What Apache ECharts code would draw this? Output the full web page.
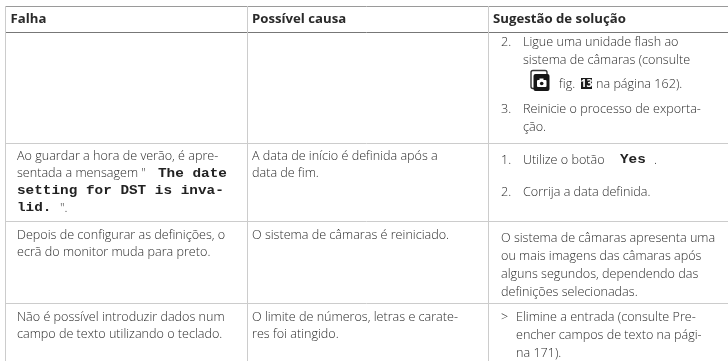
<!DOCTYPE html>
<html><head><meta charset="utf-8">
<style>html,body{margin:0;padding:0;background:#fff}#c{width:728px;height:361px}</style>
<script src="https://cdn.jsdelivr.net/npm/echarts@6/dist/echarts.min.js"></script></head>
<body><div id="c"></div>
<script>
const headers = ['Falha', 'Possível causa', 'Sugestão de solução'];
const col1Lines = [
 ['Ao guardar a hora de verão, é apre-', 156, 17],
 ['sentada a mensagem "', 173.5, 17],
 ['".', 208, 60],
 ['Depois de configurar as definições, o', 235, 17],
 ['ecrã do monitor muda para preto.', 252.5, 17],
 ['Não é possível introduzir dados num', 317, 17],
 ['campo de texto utilizando o teclado.', 334.5, 17]
];
const monoRuns = [
 ['The date', 173.5, 158],
 ['setting for DST is inva-', 190.5, 17],
 ['lid.', 208, 17],
 ['Yes', 160, 620]
];
const col2Lines = [
 ['A data de início é definida após a', 156],
 ['data de fim.', 173.5],
 ['O sistema de câmaras é reiniciado.', 235],
 ['O limite de números, letras e carate-', 317],
 ['res foi atingido.', 334.5]
];
const col3Lines = [
 ['Ligue uma unidade flash ao', 42],
 ['sistema de câmaras (consulte', 60],
 ['{g|fig.}', 84, 559],
 ['na página 162).', 84, 596],
 ['Reinicie o processo de exporta-', 109],
 ['ção.', 127],
 ['Utilize o botão', 160],
 ['.', 160, 654],
 ['Corrija a data definida.', 192]
];
const col3Plain = [
 ['O sistema de câmaras apresenta uma', 238],
 ['ou mais imagens das câmaras após', 256],
 ['alguns segundos, dependendo das', 274],
 ['definições selecionadas.', 292]
];
const numerals = [['2.', 42], ['3.', 109], ['1.', 160], ['2.', 192]];
const lastCell = [
 ['Elimine a entrada (consulte {g|Pre-}', 317],
 ['{g|encher campos de texto} na pági-', 335],
 ['na 171).', 353]
];
const hLines = [[6, '#9a9a9a', 1], [32, '#777', 1], [143, '#ccc', 1], [221, '#ccc', 1], [303, '#ccc', 1]];
const vLines = [5.5, 247.5, 488.5];

const FONT = '"Open Sans"';
const BODY = 12.6;
const rich = {
  g: {fontFamily: FONT, fontWeight: 300, fontSize: BODY, color: '#8a8a8a'}
};
function txt(s, x, y, extra) {
  return {type: 'text', x, y, silent: true, style: Object.assign({
    text: s, fontFamily: FONT, fontWeight: 300, fontSize: BODY, fill: '#2b2b2b',
    verticalAlign: 'middle', align: 'left', rich}, extra || {})};
}
const els = [];
hLines.forEach(([y, c, w]) => els.push({type: 'line', shape: {x1: 5, y1: y + .5, x2: 728, y2: y + .5}, style: {stroke: c, lineWidth: w}}));
vLines.forEach(x => els.push({type: 'line', shape: {x1: x, y1: 6, x2: x, y2: 361}, style: {stroke: '#ccc', lineWidth: 1}}));
[10.5, 252, 493].forEach((x, i) => els.push(txt(headers[i], x, 19, {fontWeight: 'bold', fontSize: 13.2, fill: '#2a2a2a'})));
col1Lines.forEach(l => els.push(txt(l[0], l[2], l[1])));
monoRuns.forEach(l => {
  const e = txt(l[0], l[2], l[1], {fontFamily: '"Liberation Mono"', fontWeight: 'bold', fontSize: 12.6, fill: '#222'});
  e.scaleX = 1.14;
  els.push(e);
});
col2Lines.forEach(l => els.push(txt(l[0], 252, l[1])));
col3Lines.forEach(l => els.push(txt(l[0], l[2] || 523, l[1])));
col3Plain.forEach(l => els.push(txt(l[0], 501, l[1])));
numerals.forEach(l => els.push(txt(l[0], 501, l[1])));
lastCell.forEach(l => els.push(txt(l[0], 516, l[1])));
els.push(txt('>', 501, 317));
// camera icon
els.push({type: 'rect', shape: {x: 531, y: 70.5, width: 16, height: 18, r: 2}, style: {fill: '#fff', stroke: '#333', lineWidth: 1.4}});
els.push({type: 'rect', shape: {x: 533.5, y: 74, width: 16, height: 17, r: 2}, style: {fill: '#161616'}});
els.push({type: 'rect', shape: {x: 537, y: 80, width: 9.5, height: 7, r: 1}, style: {fill: '#fff'}});
els.push({type: 'rect', shape: {x: 539.5, y: 78.5, width: 4, height: 2}, style: {fill: '#fff'}});
els.push({type: 'circle', shape: {cx: 541.7, cy: 83.5, r: 1.8}, style: {fill: '#161616'}});
// figure badge
els.push({type: 'rect', shape: {x: 581, y: 78, width: 11, height: 11}, style: {fill: '#1a1a1a'}});
els.push(txt('13', 586.5, 83.7, {fill: '#fff', fontWeight: 'bold', fontSize: 10.5, align: 'center'}));

const chart = echarts.init(document.getElementById('c'), null, {renderer: 'canvas'});
chart.setOption({animation: false, backgroundColor: '#fff', graphic: {elements: els}});
</script></body></html>
